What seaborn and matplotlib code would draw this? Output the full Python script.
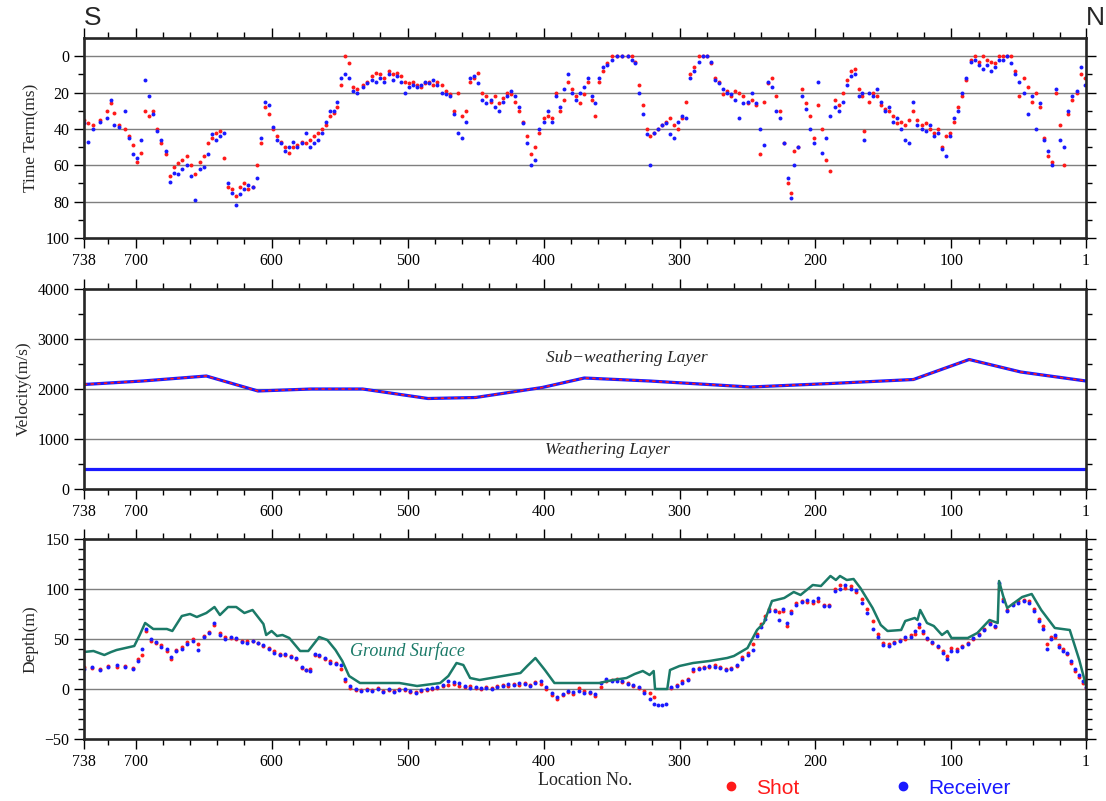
import numpy as np
import pandas as pd
import matplotlib
matplotlib.use("Agg")
import matplotlib.pyplot as plt
import seaborn as sns
from matplotlib.lines import Line2D

# ---- time term (ms) for shot / receiver ----
tt_loc = [738, 735, 731, 726, 721, 718, 716, 712, 708, 705, 702, 699, 696, 693, 690,
          687, 684, 681, 678, 675, 672, 669, 666, 662, 659, 656, 653, 650, 647, 644,
          641, 638, 635, 632, 629, 626, 623, 620, 617, 614, 611, 608, 605, 602, 599,
          596, 593, 590, 587, 584, 581, 578, 575, 572, 569, 566, 563, 560, 557, 554,
          552, 549, 546, 543, 540, 537, 533, 530, 526, 523, 520, 517, 514, 511, 508,
          505, 502, 499, 496, 493, 490, 487, 484, 481, 478, 475, 472, 469, 466, 463,
          460, 457, 454, 451, 448, 445, 442, 439, 436, 433, 430, 427, 424, 421, 418,
          415, 412, 409, 406, 403, 400, 397, 394, 391, 388, 385, 382, 379, 376, 373,
          370, 367, 364, 362, 359, 356, 353, 350, 346, 342, 338, 335, 333, 330, 327,
          324, 322, 319, 316, 313, 310, 307, 304, 301, 298, 295, 292, 289, 286, 283,
          280, 277, 274, 271, 268, 265, 262, 259, 256, 253, 250, 247, 244, 241, 238,
          235, 232, 229, 226, 223, 220, 218, 216, 213, 210, 207, 204, 201, 198, 195,
          192, 189, 186, 183, 180, 177, 174, 171, 168, 166, 164, 161, 158, 155, 152,
          149, 146, 143, 140, 137, 134, 131, 128, 125, 122, 119, 116, 113, 110, 107,
          104, 101, 98, 95, 92, 89, 86, 83, 80, 77, 74, 71, 68, 65, 62,
          59, 56, 53, 50, 47, 44, 41, 38, 35, 32, 29, 26, 23, 20, 17,
          14, 11, 8, 5, 2]
tt_shot = [35, 37, 38, 35, 30, 26, 31, 38, 40, 44, 49, 58, 53, 30, 33,
           30, 40, 48, 54, 66, 61, 59, 57, 55, 60, 65, 58, 55, 48, 45,
           42, 41, 56, 72, 73, 77, 72, 70, 73, 72, 60, 48, 28, 32, 40,
           44, 47, 50, 53, 50, 49, 47, 48, 46, 44, 42, 40, 38, 33, 31,
           28, 16, 0, 4, 17, 18, 16, 14, 11, 9, 10, 12, 8, 10, 9,
           11, 14, 15, 14, 16, 17, 15, 14, 16, 14, 16, 19, 21, 30, 20,
           33, 30, 14, 12, 9, 20, 22, 25, 22, 26, 23, 20, 21, 25, 30,
           36, 44, 54, 50, 42, 34, 33, 34, 20, 30, 24, 14, 18, 22, 26,
           21, 14, 24, 33, 14, 8, 4, 0, 0, 0, 0, 0, 3, 16, 27,
           40, 44, 42, 40, 38, 36, 34, 38, 40, 34, 25, 10, 6, 0, 0,
           0, 4, 12, 14, 21, 19, 22, 19, 20, 22, 26, 24, 27, 54, 25,
           15, 12, 22, 30, 48, 70, 75, 52, 50, 18, 26, 33, 45, 27, 40,
           57, 63, 24, 27, 20, 13, 8, 7, 18, 22, 41, 25, 20, 22, 27,
           29, 30, 33, 37, 36, 38, 35, 30, 35, 38, 37, 40, 42, 40, 50,
           44, 42, 36, 28, 22, 13, 2, 0, 3, 0, 2, 3, 4, 0, 0,
           0, 0, 8, 22, 12, 17, 25, 20, 28, 45, 55, 58, 20, 38, 60,
           32, 24, 20, 10, 12]
tt_recv = [37, 47, 40, 36, 34, 24, 38, 39, 30, 45, 54, 56, 46, 13, 22,
           32, 41, 46, 52, 69, 64, 65, 62, 60, 66, 79, 62, 61, 54, 43,
           46, 44, 42, 70, 75, 82, 76, 73, 71, 72, 67, 45, 25, 27, 39,
           46, 48, 52, 50, 47, 50, 48, 42, 50, 48, 46, 42, 36, 30, 30,
           25, 12, 10, 12, 19, 20, 17, 15, 13, 14, 12, 14, 10, 13, 11,
           14, 20, 17, 16, 17, 16, 14, 15, 13, 16, 20, 21, 22, 32, 42,
           45, 36, 12, 11, 15, 24, 26, 24, 28, 30, 25, 22, 19, 22, 28,
           37, 48, 60, 57, 40, 36, 30, 36, 22, 28, 18, 10, 20, 24, 20,
           17, 12, 22, 26, 12, 6, 5, 2, 0, 0, 0, 2, 4, 20, 32,
           43, 60, 42, 40, 38, 37, 43, 45, 36, 33, 34, 12, 8, 3, 0,
           0, 3, 13, 15, 18, 20, 21, 24, 34, 26, 25, 20, 26, 40, 49,
           14, 17, 30, 34, 48, 67, 78, 60, 50, 22, 29, 40, 48, 14, 53,
           45, 33, 28, 30, 25, 16, 11, 10, 22, 20, 46, 20, 22, 18, 25,
           30, 28, 36, 34, 40, 46, 48, 25, 38, 40, 41, 38, 44, 42, 51,
           55, 44, 34, 30, 20, 12, 3, 2, 5, 7, 5, 8, 6, 2, 2,
           0, 4, 10, 14, 20, 32, 22, 40, 26, 46, 52, 60, 18, 46, 50,
           30, 22, 19, 6, 16]

# ---- velocity (m/s) ----
sub_loc = [738, 695, 648, 610, 571, 533, 485, 450, 401, 370, 322, 248, 189, 128, 87, 49, 1]
sub_vel = [2090, 2160, 2260, 1960, 2000, 2000, 1810, 1830, 2030, 2220, 2160, 2040, 2110,
           2190, 2590, 2340, 2160]
wl_loc = [738, 1]
wl_vel = [400, 400]

# ---- ground surface elevation (m) ----
gs_loc = [738, 731, 723, 718, 714, 701, 697, 693, 690, 687, 677, 673, 666, 660, 655,
          648, 642, 638, 632, 626, 620, 614, 606, 604, 600, 596, 592, 587, 579, 573,
          565, 559, 553, 548, 543, 535, 520, 506, 493, 476, 470, 464, 459, 454, 447,
          430, 417, 412, 406, 399, 392, 376, 359, 349, 339, 333, 327, 322, 319, 318,
          309, 307, 300, 290, 278, 265, 260, 250, 243, 238, 232, 223, 216, 211, 202,
          196, 189, 185, 182, 177, 172, 167, 158, 152, 147, 137, 134, 127, 125, 123,
          118, 113, 107, 103, 100, 88, 81, 72, 66, 65, 62, 59, 54, 48, 41,
          34, 24, 13, 6, 1]
gs_elev = [37, 38, 34, 37, 39, 43, 54, 66, 63, 60, 60, 58, 73, 75, 72,
           76, 82, 74, 82, 82, 76, 79, 65, 54, 58, 53, 54, 51, 38, 38,
           52, 49, 39, 28, 13, 6, 6, 6, 3, 6, 13, 26, 24, 11, 9,
           13, 16, 23, 31, 19, 6, 6, 6, 9, 11, 15, 18, 14, 18, 0,
           0, 19, 23, 26, 28, 31, 33, 41, 59, 66, 88, 91, 97, 94, 104,
           103, 113, 109, 113, 109, 110, 101, 81, 64, 58, 59, 68, 71, 69, 79,
           66, 63, 54, 58, 51, 51, 56, 69, 66, 108, 93, 81, 86, 92, 95,
           79, 61, 59, 29, 3]

# ---- shot / receiver depth (m) ----
dp_loc = [738, 732, 726, 720, 714, 708, 702, 698, 695, 692, 689, 685, 681, 677, 674,
          670, 666, 662, 658, 654, 650, 646, 642, 638, 634, 630, 626, 622, 618, 614,
          610, 606, 602, 598, 594, 590, 586, 582, 578, 575, 572, 568, 565, 561, 557,
          553, 549, 546, 542, 538, 534, 530, 526, 522, 518, 514, 510, 506, 502, 498,
          494, 490, 486, 482, 478, 474, 470, 466, 462, 458, 454, 450, 446, 442, 438,
          434, 430, 426, 422, 418, 414, 410, 406, 402, 398, 394, 390, 386, 382, 378,
          374, 370, 366, 362, 358, 354, 350, 346, 342, 338, 334, 330, 326, 322, 319,
          316, 313, 310, 306, 302, 298, 294, 290, 286, 282, 278, 274, 270, 266, 262,
          258, 254, 250, 246, 243, 240, 237, 234, 230, 227, 224, 221, 218, 214, 210,
          206, 202, 198, 194, 190, 186, 182, 178, 174, 170, 166, 162, 158, 154, 150,
          146, 142, 138, 134, 130, 127, 124, 121, 118, 114, 110, 106, 103, 100, 96,
          92, 88, 84, 80, 76, 72, 68, 65, 62, 59, 55, 51, 47, 43, 39,
          36, 33, 30, 27, 24, 21, 18, 15, 12, 9, 6, 3, 1]
dp_shot = [22, 21, 20, 23, 22, 23, 21, 30, 34, 58, 48, 46, 44, 38, 30,
           39, 42, 47, 50, 45, 53, 57, 64, 56, 52, 51, 50, 48, 48, 48,
           46, 43, 41, 38, 35, 34, 33, 30, 21, 19, 20, 34, 33, 30, 28,
           26, 20, 8, 1, -1, -1, 0, -1, 1, -2, -1, -2, 0, -1, -3,
           -3, -2, -1, 0, 1, 3, 4, 5, 3, 2, 3, 1, 0, 2, 1,
           3, 4, 3, 5, 4, 6, 4, 7, 5, 0, -6, -10, -6, -3, -5,
           1, -2, -4, -7, 2, 8, 9, 10, 7, 6, 3, 1, -2, -4, -8,
           np.nan, np.nan, np.nan, 1, 4, 8, 10, 18, 21, 22, 22, 24, 22, 20, 21,
           23, 32, 36, 45, 55, 65, 73, 80, 79, 77, 78, 63, 78, 86, 88,
           87, 86, 88, 84, 84, 100, 104, 101, 103, 97, 90, 80, 68, 55, 46,
           45, 47, 49, 50, 54, 55, 62, 56, 50, 46, 42, 38, 33, 41, 40,
           43, 46, 50, 55, 60, 66, 62, 100, 90, 79, 85, 88, 89, 88, 80,
           70, 63, 45, 52, 52, 44, 40, 35, 26, 18, 12, 6, 1]
dp_recv = [20, 22, 19, 22, 24, 22, 20, 28, 40, 60, 50, 47, 42, 40, 32,
           38, 40, 45, 48, 39, 52, 56, 66, 54, 50, 52, 51, 47, 46, 48,
           46, 44, 40, 36, 34, 35, 32, 31, 22, 19, 18, 35, 34, 31, 26,
           25, 24, 10, 3, 0, -2, -1, -2, 0, -3, 0, -3, -1, 0, -2,
           -4, -1, 0, 1, 2, 4, 8, 7, 6, 3, 1, 2, 1, 1, 0,
           2, 3, 5, 4, 6, 5, 3, 6, 8, 2, -4, -8, -5, -2, -3,
           -2, -4, -3, -5, 6, 10, 8, 8, 8, 5, 4, 2, -4, -10, -15,
           -16, -16, -15, 2, 3, 6, 9, 20, 20, 21, 23, 22, 21, 19, 20,
           24, 30, 34, 39, 53, 62, 70, 78, 78, 69, 80, 66, 76, 84, 87,
           89, 88, 91, 83, 83, 98, 100, 104, 100, 99, 86, 76, 60, 52, 44,
           43, 46, 48, 52, 52, 58, 65, 58, 51, 47, 43, 36, 30, 38, 38,
           42, 45, 51, 54, 59, 65, 63, 106, 88, 78, 84, 86, 88, 86, 78,
           68, 60, 40, 50, 54, 42, 38, 36, 28, 20, 14, 8, 2]

RED = "#ff1a1a"
BLUE = "#1a1aff"
TEAL = "#1b7a68"

sns.set_style("white")
plt.rcParams["font.family"] = ["Liberation Serif", "DejaVu Serif"]
plt.rcParams["axes.linewidth"] = 1.9

tt = pd.DataFrame({"loc": tt_loc, "shot": tt_shot, "recv": tt_recv})
dp = pd.DataFrame({"loc": dp_loc, "shot": dp_shot, "recv": dp_recv})
gs = pd.DataFrame({"loc": gs_loc, "elev": gs_elev})
sub = pd.DataFrame({"loc": sub_loc, "vel": sub_vel})
wl = pd.DataFrame({"loc": wl_loc, "vel": wl_vel})

fig = plt.figure(figsize=(11.06, 8.01), dpi=100)
left, width, height = 0.0759, 0.9061, 0.2497
ax1 = fig.add_axes([left, 0.7029, width, height])
ax2 = fig.add_axes([left, 0.3895, width, height])
ax3 = fig.add_axes([left, 0.0774, width, height])

xmajor = [738, 700, 600, 500, 400, 300, 200, 100, 1]
xminor = [v for v in range(20, 738, 20) if v % 100]


def style_axis(ax, ymajor, yminor, grid):
    ax.set_xlim(738, 1)
    ax.set_xticks(xmajor)
    ax.set_xticks(xminor, minor=True)
    ax.set_yticks(ymajor)
    ax.set_yticks(yminor, minor=True)
    for g in grid:
        ax.axhline(g, color="#7f7f7f", lw=1.0, zorder=0)
    ax.tick_params(which="both", direction="out", top=True, bottom=True,
                   left=True, right=True, labelsize=11.5, width=1.0, colors="black")
    ax.tick_params(which="major", length=7)
    ax.tick_params(which="minor", length=4)
    ax.set_xlabel("")
    for s in ax.spines.values():
        s.set_linewidth(1.9)


# ---- top: time term ----
sns.scatterplot(data=tt, x="loc", y="shot", color=RED, s=8, linewidth=0, ax=ax1)
sns.scatterplot(data=tt, x="loc", y="recv", color=BLUE, s=8, linewidth=0, ax=ax1)
ax1.set_ylim(100, -10)
style_axis(ax1, list(range(0, 101, 20)), list(range(10, 100, 20)), [0, 20, 40, 60, 80])
ax1.set_ylabel("Time Term(ms)", fontsize=12.5)

# ---- middle: velocity ----
sns.lineplot(data=sub, x="loc", y="vel", color=BLUE, lw=2.3, sort=False, estimator=None, ax=ax2)
sns.lineplot(data=sub, x="loc", y="vel", color=RED, lw=1.2, linestyle=(0, (2, 2)),
             sort=False, estimator=None, ax=ax2)
sns.lineplot(data=wl, x="loc", y="vel", color=BLUE, lw=2.3, sort=False, estimator=None, ax=ax2)
ax2.set_ylim(0, 4000)
style_axis(ax2, [0, 1000, 2000, 3000, 4000], [500, 1500, 2500, 3500], [1000, 2000, 3000])
ax2.set_ylabel("Velocity(m/s)", fontsize=12.5)
ax2.text(339, 2620, "Sub\u2212weathering Layer", style="italic", fontsize=12.5,
         ha="center", va="center")
ax2.text(353, 780, "Weathering Layer", style="italic", fontsize=12.5,
         ha="center", va="center")

# ---- bottom: depth ----
sns.lineplot(data=gs, x="loc", y="elev", color=TEAL, lw=1.8, sort=False, estimator=None, ax=ax3)
sns.scatterplot(data=dp, x="loc", y="shot", color=RED, s=8, linewidth=0, ax=ax3)
sns.scatterplot(data=dp, x="loc", y="recv", color=BLUE, s=8, linewidth=0, ax=ax3)
ax3.set_ylim(-50, 150)
style_axis(ax3, [-50, 0, 50, 100, 150], [v for v in range(-40, 150, 10) if v % 50], [0, 50, 100])
ax3.set_ylabel("Depth(m)", fontsize=12.5)
ax3.set_xlabel("Location No.", fontsize=13, labelpad=2)
ax3.text(500, 38, "Ground Surface", style="italic", fontsize=13, color=TEAL,
         ha="center", va="center")

fig.text(0.084, 0.977, "S", fontsize=19, family="Liberation Sans", ha="center", va="center")
fig.text(0.990, 0.977, "N", fontsize=19, family="Liberation Sans", ha="center", va="center")

handles = [Line2D([], [], marker="o", ls="", color=RED, markersize=6),
           Line2D([], [], marker="o", ls="", color=BLUE, markersize=6)]
fig.legend(handles, ["Shot", "Receiver"], loc="center", bbox_to_anchor=(0.778, 0.016),
           ncol=2, frameon=False, handletextpad=0.2, columnspacing=4.0,
           labelcolor=[RED, BLUE], prop={"family": "Liberation Sans", "size": 15})

fig.savefig("out.png", dpi=100)
